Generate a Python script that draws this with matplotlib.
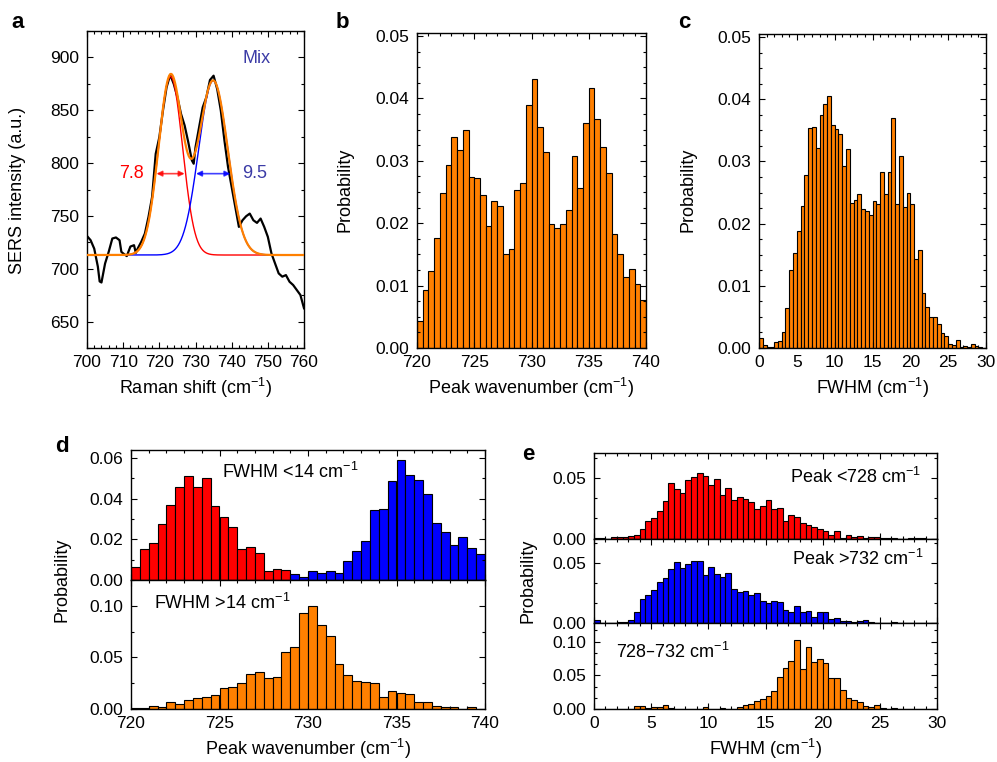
import matplotlib
matplotlib.use("Agg")
import matplotlib.pyplot as plt
import numpy as np
from matplotlib.ticker import MultipleLocator

plt.rcParams['font.family'] = ['Liberation Sans', 'DejaVu Sans']
plt.rcParams['mathtext.default'] = 'regular'
plt.rcParams['font.size'] = 13

# ---- panel a: single SERS spectrum and two-peak fit ----
raman_x = [700, 701, 702, 703, 703.5, 704, 705, 706, 707, 708, 709, 709.5, 710, 711,
           712, 713, 713.5, 714, 715, 716, 717, 718, 719, 720, 721, 722, 723, 724,
           725, 726, 727, 728, 729, 729.5, 730, 731, 732, 733, 734, 735, 736, 737,
           738, 739, 740, 741, 742, 743, 744, 745, 746, 747, 748, 749, 750, 751,
           752, 753, 754, 755, 756, 757, 758, 759, 760]
raman_y = [731, 727, 719, 702, 688, 687, 705, 716, 728.6, 729.6, 727, 716, 714.5, 712,
           721, 722.3, 715, 719, 725.5, 733.3, 749, 768, 808.8, 824.5, 849.7, 871.7, 883.6, 874.8,
           862.3, 846.5, 835.5, 819.8, 802.5, 799.4, 815, 834, 852.8, 862.3, 878.6, 882.7, 870, 849.7,
           821.4, 796.2, 777.4, 758.5, 739.6, 745.9, 749.7, 752.2, 745.9, 743.4, 747.5, 739.6, 730.2, 714.5,
           705, 695.6, 692.5, 694, 687.7, 684.6, 679.9, 675.2, 662.6]

baseline = 713
peak1_center, peak1_amp, peak1_fwhm = 723.1, 169, 7.8
peak2_center, peak2_amp, peak2_fwhm = 734.9, 165, 9.5
arrow_level = 790

# ---- panel b/c: all events ----
wn_edges_start = 720
prob_wavenumber = [0.0043, 0.0093, 0.0123, 0.0177, 0.0249, 0.0294, 0.0339, 0.0317, 0.0349, 0.0274,
                   0.0272, 0.0245, 0.0195, 0.0235, 0.0227, 0.0150, 0.0158, 0.0254, 0.0265, 0.0390,
                   0.0431, 0.0354, 0.0315, 0.0199, 0.0193, 0.0199, 0.0222, 0.0308, 0.0256, 0.0361,
                   0.0417, 0.0367, 0.0322, 0.0281, 0.0182, 0.0150, 0.0114, 0.0127, 0.0103, 0.0077]

prob_fwhm = [0.0016, 0.0005, 0.0002, 0.0002, 0.0010, 0.0012, 0.0026, 0.0064, 0.0125, 0.0152,
             0.0188, 0.0229, 0.0279, 0.0354, 0.0356, 0.0322, 0.0374, 0.0392, 0.0405, 0.0358,
             0.0352, 0.0344, 0.0293, 0.0320, 0.0234, 0.0238, 0.0248, 0.0224, 0.0220, 0.0214,
             0.0236, 0.0232, 0.0283, 0.0248, 0.0283, 0.0370, 0.0231, 0.0308, 0.0226, 0.0249,
             0.0232, 0.0143, 0.0157, 0.0088, 0.0066, 0.0050, 0.0050, 0.0039, 0.0024, 0.0020,
             0.0007, 0.0005, 0.0013, 0.0002, 0.0004, 0.0002, 0.0007, 0.0004, 0.0001, 0.0]

# ---- panel d: wavenumber split by FWHM ----
prob_narrow = [0.0065, 0.0152, 0.0183, 0.0278, 0.0369, 0.0458, 0.0513, 0.0458, 0.0503, 0.0363,
               0.0312, 0.0263, 0.0152, 0.0162, 0.0131, 0.0043, 0.0052, 0.0047, 0.0031, 0.0013,
               0.0043, 0.0034, 0.0043, 0.0034, 0.0093, 0.0145, 0.0191, 0.0347, 0.0350, 0.0487,
               0.0589, 0.0518, 0.0492, 0.0425, 0.0283, 0.0234, 0.0173, 0.0211, 0.0159, 0.0128]
narrow_split = 729  # bins below this are the low-wavenumber peak
prob_broad = [0.0010, 0.0005, 0.0026, 0.0019, 0.0065, 0.0045, 0.0084, 0.0106, 0.0116, 0.0135,
              0.0203, 0.0210, 0.0248, 0.0335, 0.0361, 0.0297, 0.0306, 0.0552, 0.0597, 0.0935,
              0.0994, 0.0813, 0.0703, 0.0432, 0.0329, 0.0274, 0.0258, 0.0248, 0.0116, 0.0171,
              0.0158, 0.0142, 0.0071, 0.0065, 0.0026, 0.0019, 0.0019, 0.0, 0.0016, 0.0]

# ---- panel e: FWHM split by peak position ----
prob_low_peak = [0.0003, 0.0002, 0.0001, 0.0010, 0.0010, 0.0014, 0.0019, 0.0030, 0.0083, 0.0144,
                 0.0174, 0.0229, 0.0312, 0.0459, 0.0412, 0.0376, 0.0481, 0.0508, 0.0541, 0.0514,
                 0.0442, 0.0492, 0.0359, 0.0414, 0.0315, 0.0340, 0.0329, 0.0298, 0.0246, 0.0268,
                 0.0315, 0.0243, 0.0251, 0.0146, 0.0196, 0.0177, 0.0127, 0.0110, 0.0094, 0.0083,
                 0.0066, 0.0030, 0.0061, 0.0006, 0.0028, 0.0017, 0.0019, 0.0008, 0.0011, 0.0011,
                 0.0003, 0.0002, 0.0002, 0.0001, 0.0001, 0.0002, 0.0002, 0.0002, 0.0, 0.0]
prob_high_peak = [0.0025, 0.0, 0.0, 0.0003, 0.0008, 0.0014, 0.0028, 0.0096, 0.0200, 0.0239,
                  0.0281, 0.0343, 0.0374, 0.0450, 0.0511, 0.0463, 0.0497, 0.0517, 0.0522, 0.0402,
                  0.0472, 0.0410, 0.0388, 0.0416, 0.0289, 0.0258, 0.0270, 0.0239, 0.0256, 0.0185,
                  0.0171, 0.0185, 0.0180, 0.0112, 0.0093, 0.0143, 0.0096, 0.0104, 0.0051, 0.0098,
                  0.0098, 0.0039, 0.0048, 0.0020, 0.0020, 0.0011, 0.0022, 0.0031, 0.0014, 0.0,
                  0.0, 0.0, 0.0008, 0.0003, 0.0006, 0.0003, 0.0, 0.0002, 0.0, 0.0]
prob_mid_peak = [0.0, 0.0, 0.0005, 0.0003, 0.0, 0.0, 0.0003, 0.0044, 0.0044, 0.0015,
                 0.0040, 0.0030, 0.0064, 0.0020, 0.0010, 0.0005, 0.0005, 0.0005, 0.0005, 0.0030,
                 0.0005, 0.0, 0.0015, 0.0010, 0.0, 0.0030, 0.0060, 0.0074, 0.0123, 0.0153,
                 0.0197, 0.0266, 0.0483, 0.0606, 0.0714, 0.1020, 0.0601, 0.0926, 0.0700, 0.0739,
                 0.0690, 0.0468, 0.0458, 0.0281, 0.0163, 0.0133, 0.0103, 0.0054, 0.0030, 0.0060,
                 0.0020, 0.0010, 0.0015, 0.0, 0.0, 0.0, 0.0, 0.0, 0.0, 0.0]

bin_w = 0.5
ORANGE = "#ff8000"
RED = "#ff0000"
BLUE = "#0000ff"
NAVY = "#3b3ba6"

W, H = 997, 762
fig = plt.figure(figsize=(W / 100, H / 100), dpi=100)


def px_axes(left, top, right, bottom):
    return fig.add_axes([left / W, 1 - bottom / H, (right - left) / W, (bottom - top) / H])


def style(ax, xmaj, xmin, ymaj, ymin):
    ax.xaxis.set_major_locator(MultipleLocator(xmaj))
    ax.xaxis.set_minor_locator(MultipleLocator(xmin))
    ax.yaxis.set_major_locator(MultipleLocator(ymaj))
    ax.yaxis.set_minor_locator(MultipleLocator(ymin))
    ax.tick_params(which='both', direction='in', top=True, right=True, width=0.8,
                   labelsize=12.5)
    ax.tick_params(which='major', length=4)
    ax.tick_params(which='minor', length=2)
    ax.tick_params(axis='x', which='major', pad=5)
    ax.tick_params(axis='y', which='major', pad=5.5)
    for s in ax.spines.values():
        s.set_linewidth(1.0)


def hist_bars(ax, start, probs, color):
    edges = start + bin_w * np.arange(len(probs))
    ax.bar(edges, probs, width=bin_w, align='edge', color=color,
           edgecolor='black', linewidth=0.8)
    return edges


def ylabel(x, y, text):
    fig.text(x / W, 1 - y / H, text, rotation=90, ha='center', va='center', fontsize=13)


# ---------------- a ----------------
ax_a = px_axes(87, 31, 304, 348)
xf = np.linspace(700, 760, 600)
sig1 = peak1_fwhm / (2 * np.sqrt(2 * np.log(2)))
sig2 = peak2_fwhm / (2 * np.sqrt(2 * np.log(2)))
g1 = peak1_amp * np.exp(-0.5 * ((xf - peak1_center) / sig1) ** 2)
g2 = peak2_amp * np.exp(-0.5 * ((xf - peak2_center) / sig2) ** 2)
ax_a.plot(raman_x, raman_y, color='black', lw=1.6, zorder=2)
ax_a.plot(xf, baseline + g1, color=RED, lw=1.0, zorder=3)
ax_a.plot(xf, baseline + g2, color=BLUE, lw=1.0, zorder=3)
ax_a.plot(xf, baseline + g1 + g2, color=ORANGE, lw=1.6, zorder=4)
for c, w, col in [(peak1_center, peak1_fwhm, RED), (peak2_center, peak2_fwhm, BLUE)]:
    ax_a.annotate('', xy=(c + w / 2, arrow_level), xytext=(c - w / 2, arrow_level),
                  arrowprops=dict(arrowstyle='<|-|>', color=col, lw=1.2, alpha=0.75,
                                  shrinkA=0, shrinkB=0, mutation_scale=8), zorder=5)
ax_a.text(peak1_center - peak1_fwhm / 2 - 3.6, arrow_level, f"{peak1_fwhm}", color=RED,
          ha='right', va='center', fontsize=13)
ax_a.text(peak2_center + peak2_fwhm / 2 + 3.2, arrow_level, f"{peak2_fwhm}", color=NAVY,
          ha='left', va='center', fontsize=13)
ax_a.text(747, 899, "Mix", color=NAVY, ha='center', va='center', fontsize=13)
ax_a.set_xlim(700, 760)
ax_a.set_ylim(625, 925)
style(ax_a, 10, 2, 50, 25)
ax_a.set_xlabel("Raman shift (cm$^{-1}$)")
ylabel(18, 190, "SERS intensity (a.u.)")

# ---------------- b ----------------
ax_b = px_axes(417, 33, 646, 348)
hist_bars(ax_b, wn_edges_start, prob_wavenumber, ORANGE)
ax_b.set_xlim(720, 740)
ax_b.set_ylim(0, 0.0505)
style(ax_b, 5, 1, 0.01, 0.0025)
ax_b.yaxis.set_major_formatter(lambda v, p: f"{v:.2f}")
ax_b.set_xlabel("Peak wavenumber (cm$^{-1}$)")
ylabel(345, 190, "Probability")

# ---------------- c ----------------
ax_c = px_axes(759, 34, 986, 348)
hist_bars(ax_c, 0, prob_fwhm, ORANGE)
ax_c.set_xlim(0, 30)
ax_c.set_ylim(0, 0.0505)
style(ax_c, 5, 1, 0.01, 0.0025)
ax_c.yaxis.set_major_formatter(lambda v, p: f"{v:.2f}")
ax_c.set_xlabel("FWHM (cm$^{-1}$)")
ylabel(688, 190, "Probability")

# ---------------- d ----------------
ax_d1 = px_axes(131, 450, 485, 580)
ax_d2 = px_axes(131, 580, 485, 709)
edges = wn_edges_start + bin_w * np.arange(len(prob_narrow))
d_colors = [RED if e < narrow_split else BLUE for e in edges]
ax_d1.bar(edges, prob_narrow, width=bin_w, align='edge', color=d_colors,
          edgecolor='black', linewidth=0.8)
hist_bars(ax_d2, wn_edges_start, prob_broad, ORANGE)
for ax in (ax_d1, ax_d2):
    ax.set_xlim(720, 740)
    ax.yaxis.set_major_formatter(lambda v, p: f"{v:.2f}")
ax_d1.set_ylim(0, 0.064)
ax_d2.set_ylim(0, 0.125)
style(ax_d1, 5, 1, 0.02, 0.01)
style(ax_d2, 5, 1, 0.05, 0.025)
ax_d1.set_xticklabels([])
ax_d1.text(729.0, 0.0531, "FWHM <14 cm$^{-1}$", ha='center', va='center', fontsize=13)
ax_d2.text(721.3, 0.1024, "FWHM >14 cm$^{-1}$", ha='left', va='center', fontsize=13)
ax_d2.set_xlabel("Peak wavenumber (cm$^{-1}$)")
ylabel(62, 580, "Probability")

# ---------------- e ----------------
ax_e1 = px_axes(594, 453, 937, 538.7)
ax_e2 = px_axes(594, 538.7, 937, 623.3)
ax_e3 = px_axes(594, 623.3, 937, 709.3)
hist_bars(ax_e1, 0, prob_low_peak, RED)
hist_bars(ax_e2, 0, prob_high_peak, BLUE)
hist_bars(ax_e3, 0, prob_mid_peak, ORANGE)
for ax in (ax_e1, ax_e2, ax_e3):
    ax.set_xlim(0, 30)
    style(ax, 5, 1, 0.05, 0.05 / 3)
    ax.yaxis.set_major_formatter(lambda v, p: f"{v:.2f}")
ax_e1.set_ylim(0, 0.0705)
ax_e2.set_ylim(0, 0.0705)
ax_e3.set_ylim(0, 0.127)
ax_e1.set_xticklabels([])
ax_e2.set_xticklabels([])
ax_e1.text(28.6, 0.0506, "Peak <728 cm$^{-1}$", ha='right', va='center', fontsize=13)
ax_e2.text(28.8, 0.054, "Peak >732 cm$^{-1}$", ha='right', va='center', fontsize=13)
ax_e3.text(1.9, 0.0845, "728–732 cm$^{-1}$", ha='left', va='center', fontsize=13)
ax_e3.set_xlabel("FWHM (cm$^{-1}$)")
ylabel(528, 581, "Probability")

# panel letters
for x, y, s in [(18, 22, 'a'), (342, 22, 'b'), (684, 22, 'c'), (62, 447, 'd'), (528, 455, 'e')]:
    fig.text(x / W, 1 - y / H, s, fontsize=16, fontweight='bold', ha='center', va='center')

fig.savefig("out.png", dpi=100)
